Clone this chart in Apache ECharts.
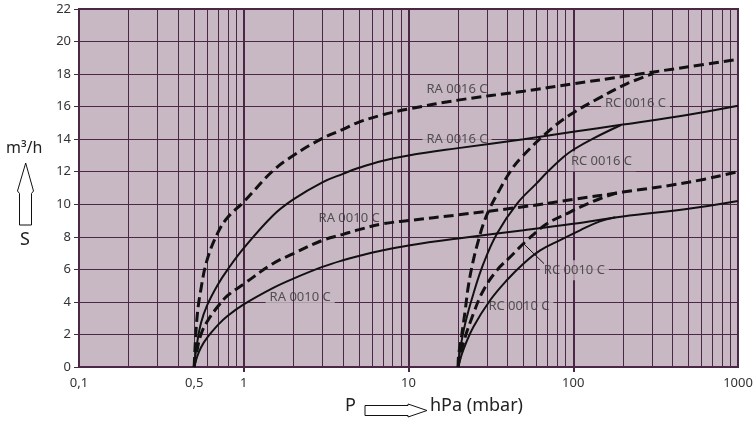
<!DOCTYPE html>
<html>
<head>
<meta charset="utf-8">
<script src="https://cdn.jsdelivr.net/npm/echarts@6/dist/echarts.min.js"></script>
<style>
html,body{margin:0;padding:0;background:#fff;}
#c{width:756px;height:423px;}
</style>
</head>
<body>
<div id="c"></div>
<script>
// ---- data (pressure hPa, pumping speed m3/h) ----
const pRA16D = [0.5, 0.52, 0.55, 0.6, 0.7, 0.8, 1, 1.5, 2, 3, 4, 5, 7, 10, 20, 50, 100, 200, 500, 1000];
const sRA16D = [0, 3.0, 4.8, 6.6, 8.3, 9.2, 10.15, 12.05, 13.0, 14.05, 14.6, 15.05, 15.5, 15.85, 16.4, 16.95, 17.4, 17.85, 18.45, 18.9];

const pRA16S = [0.5, 0.52, 0.55, 0.6, 0.7, 0.8, 1, 1.5, 2, 3, 4, 5, 7, 10, 20, 50, 100, 200, 500, 1000];
const sRA16S = [0, 1.4, 2.7, 3.8, 5.1, 6.0, 7.3, 9.3, 10.3, 11.35, 11.87, 12.24, 12.68, 13.0, 13.45, 14.0, 14.45, 14.9, 15.5, 16.05];

const pRA10D = [0.5, 0.52, 0.55, 0.6, 0.7, 0.8, 1, 1.5, 2, 3, 4, 5, 7, 10, 20, 50, 100, 200, 500, 1000];
const sRA10D = [0, 1.0, 2.0, 2.8, 3.75, 4.4, 5.1, 6.35, 6.97, 7.78, 8.15, 8.44, 8.8, 9.0, 9.35, 9.85, 10.3, 10.75, 11.35, 12.0];

const pRA10S = [0.5, 0.52, 0.55, 0.6, 0.7, 0.8, 1, 1.5, 2, 3, 4, 5, 7, 10, 20, 50, 100, 200, 500, 1000];
const sRA10S = [0, 0.6, 1.2, 1.8, 2.6, 3.15, 3.85, 4.85, 5.43, 6.15, 6.56, 6.82, 7.17, 7.47, 7.9, 8.4, 8.8, 9.25, 9.72, 10.2];

const pRC16D = [20, 20.1, 21, 22.1, 23.1, 24.8, 26.6, 28.5, 31.3, 36, 41.4, 47.6, 69.2, 95.7, 145, 211, 307];
const sRC16D = [0, 0.6, 1.9, 3.5, 5.0, 6.6, 7.8, 8.8, 9.8, 10.95, 12.0, 12.8, 14.4, 15.5, 16.55, 17.4, 18.05];

const pRC16S = [20, 20.56, 22.1, 24.8, 28.5, 34.4, 45.5, 60.1, 69.2, 87.2, 100, 132.7, 195];
const sRC16S = [0, 1.04, 2.68, 4.52, 6.35, 8.19, 10.03, 11.3, 11.95, 12.9, 13.35, 14.05, 14.87];

const pRC10D = [20, 21.5, 24.8, 28.5, 34.4, 41.4, 52.3, 69.1, 91.4, 110, 150, 185];
const sRC10D = [0, 1.45, 3.29, 4.72, 5.94, 6.76, 7.78, 8.8, 9.42, 9.82, 10.4, 10.7];

const pRC10S = [20, 21.5, 24.8, 31.3, 39.5, 49.8, 63, 83.2, 110, 145, 180];
const sRC10S = [0, 1.04, 2.47, 4.1, 5.33, 6.35, 7.17, 7.8, 8.4, 8.95, 9.2];

// curve labels: [pressure, speed, text]
const labelP = [19.7, 19.7, 4.36, 2.2, 238.8, 148.3, 101.6, 46.8];
const labelS = [17.08, 14.0, 9.11, 4.26, 16.22, 12.64, 5.94, 3.76];
const labelT = ['RA 0016 C', 'RA 0016 C', 'RA 0010 C', 'RA 0010 C', 'RC 0016 C', 'RC 0016 C', 'RC 0010 C', 'RC 0010 C'];
const leaderFrom = [49.9, 7.58];
const leaderTo = [66.5, 6.35];

// axis ticks
const xLabelValues = [0.1, 0.5, 1, 10, 100, 1000];
const xMajorTickValues = [1, 10, 100];
const xMinorGrid = [0.2, 0.3, 0.4, 0.5, 0.6, 0.7, 0.8, 0.9,
                    2, 3, 4, 5, 6, 7, 8, 9,
                    20, 30, 40, 50, 60, 70, 80, 90,
                    200, 300, 400, 500, 600, 700, 800, 900];

const BG = '#c8b8c3';
const GRID = '#4a2845';
const INK = '#111';
const FONT = 'Noto Sans';

function zip(a, b) { return a.map((v, i) => [v, b[i]]); }

function curve(name, p, s, dashed) {
  return {
    type: 'line', name: name, data: zip(p, s), z: 5,
    showSymbol: false, symbol: 'none', smooth: 0.4,
    lineStyle: dashed ? { color: INK, width: 3, type: [10, 5] } : { color: INK, width: 2 },
    silent: true
  };
}

const chart = echarts.init(document.getElementById('c'), null, { renderer: 'canvas' });

chart.setOption({
  animation: false,
  textStyle: { fontFamily: FONT },
  grid: { left: 79, right: 18, top: 9, bottom: 56, show: true, backgroundColor: BG, borderColor: GRID, borderWidth: 2 },
  xAxis: {
    type: 'log', logBase: 10, min: 0.1, max: 1000,
    axisLine: { show: true, lineStyle: { color: GRID, width: 2 } },
    axisTick: { show: true, customValues: xMajorTickValues, length: 5, lineStyle: { color: GRID, width: 2 } },
    axisLabel: {
      customValues: xLabelValues, margin: 10, fontSize: 13, color: '#333', fontFamily: FONT,
      formatter: v => String(Math.round(v * 10) / 10).replace('.', ',')
    },
    splitLine: { show: true, lineStyle: { color: GRID, width: 2 } },
    minorTick: { show: false }, minorSplitLine: { show: false }
  },
  yAxis: {
    type: 'value', min: 0, max: 22, interval: 2,
    axisLine: { show: true, lineStyle: { color: GRID, width: 2 } },
    axisTick: { show: true, length: 5, lineStyle: { color: GRID, width: 1 } },
    axisLabel: { margin: 8, fontSize: 13, color: '#333', fontFamily: FONT },
    splitLine: { show: true, lineStyle: { color: GRID, width: 1 } }
  },
  series: [
    {
      type: 'line', name: 'minorgrid', data: [], z: 1, silent: true,
      markLine: {
        silent: true, symbol: ['none', 'none'], label: { show: false }, animation: false,
        lineStyle: { color: GRID, width: 1, type: 'solid' },
        emphasis: { disabled: true },
        data: xMinorGrid.map(v => ({ xAxis: v }))
      }
    },
    {
      type: 'scatter', name: 'labels', z: 3, symbolSize: 0, silent: true,
      data: labelP.map((p, i) => [p, labelS[i], labelT[i]]),
      label: {
        show: true, position: 'inside', formatter: d => d.data[2],
        fontSize: 13, fontFamily: FONT, color: '#333', lineHeight: 14,
        backgroundColor: BG, padding: [3, 4]
      },
      markLine: {
        silent: true, symbol: ['none', 'none'], label: { show: false }, animation: false,
        lineStyle: { color: INK, width: 1, type: 'solid' },
        data: [[{ coord: leaderFrom }, { coord: leaderTo }]]
      }
    },
    curve('RA 0016 C dashed', pRA16D, sRA16D, true),
    curve('RA 0016 C', pRA16S, sRA16S, false),
    curve('RA 0010 C dashed', pRA10D, sRA10D, true),
    curve('RA 0010 C', pRA10S, sRA10S, false),
    curve('RC 0016 C dashed', pRC16D, sRC16D, true),
    curve('RC 0016 C', pRC16S, sRC16S, false),
    curve('RC 0010 C dashed', pRC10D, sRC10D, true),
    curve('RC 0010 C', pRC10S, sRC10S, false)
  ],
  graphic: [
    { type: 'text', left: 6, top: 140, style: { text: 'm³/h', fontSize: 16, fontFamily: FONT, fill: '#222' } },
    { type: 'polygon', shape: { points: [[25.7, 163], [17.5, 191], [19.5, 193.5], [19.5, 225], [31.5, 225], [31.5, 193.5], [33.5, 191]] },
      style: { fill: '#fff', stroke: '#111', lineWidth: 1 } },
    { type: 'text', left: 20, top: 231, style: { text: 'S', fontSize: 18, fontFamily: FONT, fill: '#222' } },
    { type: 'text', left: 345, top: 397, style: { text: 'P', fontSize: 18, fontFamily: FONT, fill: '#222' } },
    { type: 'polygon', shape: { points: [[365, 405.5], [408, 405.5], [408, 404], [427, 410.5], [408, 417], [408, 415.5], [365, 415.5]] },
      style: { fill: '#fff', stroke: '#111', lineWidth: 1 } },
    { type: 'text', left: 430, top: 397, style: { text: 'hPa (mbar)', fontSize: 18, fontFamily: FONT, fill: '#222' } }
  ]
});
</script>
</body>
</html>
